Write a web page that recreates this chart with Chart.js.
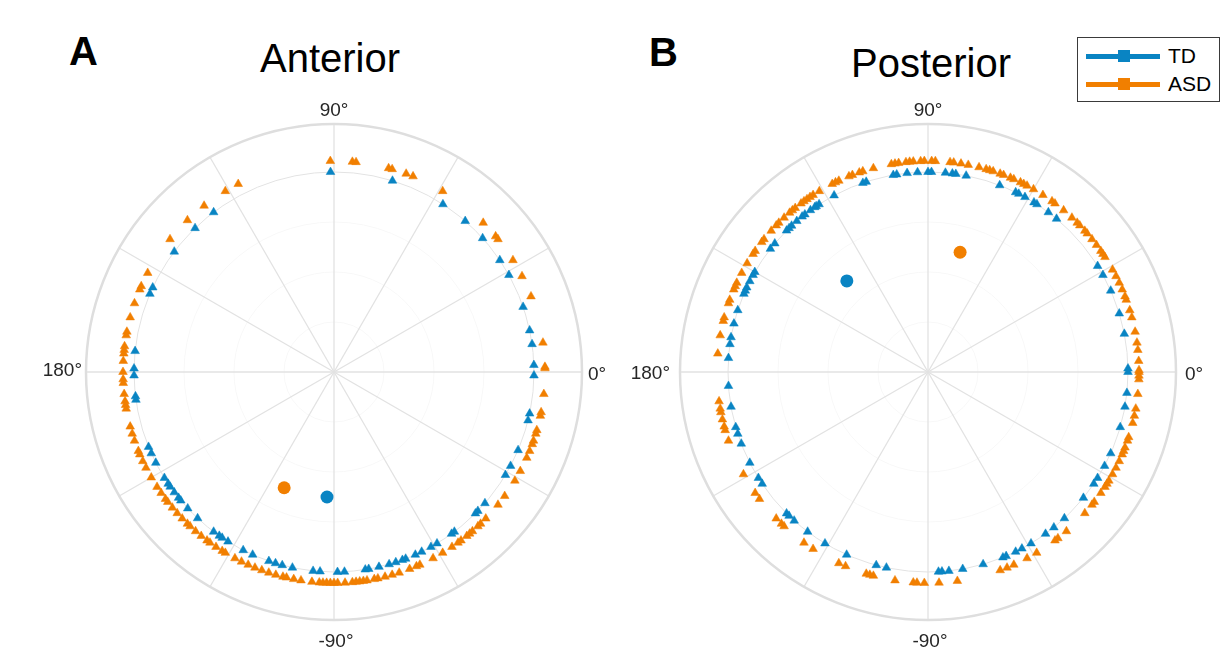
<!DOCTYPE html>
<html>
<head>
<meta charset="utf-8">
<script src="https://cdn.jsdelivr.net/npm/chart.js@4.4.1/dist/chart.umd.min.js"></script>
<style>
  html, body { margin: 0; padding: 0; background: #fff; overflow: hidden; }
  body { width: 1225px; height: 659px; position: relative; font-family: "Liberation Sans", Arial, sans-serif; color: #000; }
  canvas { position: absolute; }
  .txt { position: absolute; white-space: nowrap; line-height: 40px; font-size: 40px; }
  .panel { font-weight: bold; }
  #legend { position: absolute; left: 1077px; top: 37px; width: 143px; height: 65px; border: 1.5px solid #3a3a3a; background: #fff; box-sizing: border-box; z-index: 5; }
  .lrow { position: absolute; left: 0; width: 100%; height: 26px; }
  .lline { position: absolute; left: 8px; width: 74px; height: 5px; top: 10.5px; }
  .lmark { position: absolute; left: 39.5px; width: 12px; height: 12px; top: 7px; }
  .ltxt { position: absolute; left: 90px; top: 0; font-size: 21px; line-height: 26px; }
</style>
</head>
<body>
<div class="txt panel" style="left:69px; top:31px;">A</div>
<div class="txt" style="left:260px; top:38px;">Anterior</div>
<div class="txt panel" style="left:649px; top:32px;">B</div>
<div class="txt" style="left:851px; top:43px;">Posterior</div>

<canvas id="ant" width="620" height="620" style="left:24px; top:62px;"></canvas>
<canvas id="post" width="620" height="620" style="left:618px; top:62px;"></canvas>

<div id="legend">
  <div class="lrow" style="top:5px;">
    <div class="lline" style="background:#0984C3;"></div>
    <div class="lmark" style="background:#0984C3;"></div>
    <div class="ltxt">TD</div>
  </div>
  <div class="lrow" style="top:33px;">
    <div class="lline" style="background:#F17F00;"></div>
    <div class="lmark" style="background:#F17F00;"></div>
    <div class="ltxt">ASD</div>
  </div>
</div>

<script>
const tdColor = '#0984C3';
const asdColor = '#F17F00';

// phase angles in degrees
const tdAnterior = [2, 8, 12, 19, 29, 34, 42, 49, 57, 73, 91, 127, 134, 143, 155, 157, 174, 179, 181, 187, 188,
  202, 204, 207, 212, 214, 215, 217, 219, 220, 223, 227, 233, 235, 236, 238, 243, 246, 251, 253, 255, 258,
  264, 266, 271, 273, 279, 280, 283, 286, 288, 290, 291, 294, 296, 299, 301, 306, 307, 315, 316, 319,
  329, 332, 337, 346, 348, 359];
const asdAnterior = [1, 1.4, 8, 21, 27, 32, 39, 40, 45, 59, 68, 70, 74, 75, 84, 85, 91, 117, 121, 128, 134, 141,
  152, 156, 157, 161, 165, 169, 170, 173, 174, 175, 177, 180, 182, 183, 186, 188, 189, 190, 195, 197, 199,
  202, 203, 205, 207, 210, 213, 215, 217, 218, 220, 222, 224, 226, 227, 229, 231, 233, 234, 236, 238, 239,
  242, 244, 246, 248, 250, 252, 254, 256, 257, 259, 261, 264, 266, 267, 268, 269, 270, 271, 273, 275, 276,
  277, 278, 279, 281, 282, 284, 286, 288, 291, 293, 294, 298, 301, 304, 306, 307, 309, 310, 311, 313, 314,
  316, 321, 324, 329, 332, 336, 338, 340, 341, 343, 344, 348, 349, 354];
const tdPosterior = [1, 11, 17, 24, 29, 32, 50, 53, 57, 58, 61, 63, 64, 69, 79, 82, 83, 85, 89, 90, 93, 96, 99, 100,
  108, 109, 118, 123, 124, 124.5, 126, 128, 129, 131, 133, 134, 135, 140, 142, 150, 151, 153, 155, 156, 157,
  162, 166, 170, 172, 176, 184, 190, 196, 198, 201, 207, 212, 214, 225, 226, 228, 233, 239, 246, 255, 258,
  273, 274, 276, 280, 286, 292, 293, 296, 298, 301, 306, 309, 313, 321, 326, 328, 332, 336, 344, 350, 354, 360];
const asdPosterior = [0, 0.5, 3, 6, 8, 11, 15, 17, 20, 21, 23, 25, 27, 29, 33, 34, 35, 37, 39, 41, 42, 44, 45, 47,
  50, 53, 54, 57, 60, 62, 63, 64, 66, 67, 69, 70, 72, 73, 74, 76, 79, 81, 83, 84, 88, 89, 91, 92, 94, 95, 96,
  98, 99, 100, 105, 108, 109, 111, 112, 115, 116, 117, 121, 123, 124, 125, 126, 127, 129, 130, 131, 133, 135,
  136, 138, 141, 142, 145, 146, 149, 152, 155, 156, 157, 160, 161, 165, 166, 170, 175, 188, 190, 191, 193,
  195, 196, 199, 209, 215, 217, 224, 226, 227, 234, 237, 245, 247, 253, 254, 255, 261, 266, 267, 269, 273,
  278, 290, 292, 294, 298, 301, 307, 308, 311, 318, 321, 322, 325, 327, 328, 329, 331, 333, 335, 337, 338,
  339, 341, 342, 346, 348, 350, 354, 358, 359];

// radius each group is drawn at
const tdRadius = 1.0;
const asdRadius = 1.055;

// mean resultant vectors: [angle deg, length]
const tdMeanAnterior = [266.8, 0.626];
const asdMeanAnterior = [246.7, 0.63];
const tdMeanPosterior = [131.7, 0.61];
const asdMeanPosterior = [75, 0.62];

const gridRings = [0.25, 0.5, 0.75, 1.0];
const outerRing = 1.24;
const spokeAngles = [0, 30, 60, 90, 120, 150, 180, 210, 240, 270, 300, 330];

function toXY(deg, r) {
  const a = deg * Math.PI / 180;
  return { x: r * Math.cos(a), y: r * Math.sin(a) };
}

const polarGrid = {
  id: 'polarGrid',
  beforeDatasetsDraw(chart, args, opts) {
    const ctx = chart.ctx;
    const xs = chart.scales.x, ys = chart.scales.y;
    const cx = xs.getPixelForValue(0), cy = ys.getPixelForValue(0);
    const unit = xs.getPixelForValue(1) - cx;
    ctx.save();
    gridRings.forEach(r => {
      ctx.beginPath();
      ctx.arc(cx, cy, r * unit, 0, Math.PI * 2);
      ctx.strokeStyle = r === 1 ? '#e3e3e3' : '#f8f8f8';
      ctx.lineWidth = 1;
      ctx.stroke();
    });
    spokeAngles.forEach(d => {
      const p = toXY(d, outerRing);
      ctx.beginPath();
      ctx.moveTo(cx, cy);
      ctx.lineTo(xs.getPixelForValue(p.x), ys.getPixelForValue(p.y));
      ctx.strokeStyle = '#e2e2e2';
      ctx.lineWidth = 1.3;
      ctx.stroke();
    });
    ctx.beginPath();
    ctx.arc(cx, cy, outerRing * unit, 0, Math.PI * 2);
    ctx.strokeStyle = '#dedede';
    ctx.lineWidth = 2.5;
    ctx.stroke();

    const R = outerRing * unit;
    ctx.fillStyle = '#262626';
    ctx.font = '19px "Liberation Sans", Arial, sans-serif';
    ctx.textBaseline = 'middle';
    ctx.textAlign = 'left';
    ctx.fillText('0°', cx + R + opts.right, cy + 3);
    ctx.textAlign = 'right';
    ctx.fillText('180°', cx - R - opts.left, cy + opts.leftDy);
    ctx.textAlign = 'center';
    ctx.textBaseline = 'alphabetic';
    ctx.fillText('90°', cx, cy - R - 8);
    ctx.textBaseline = 'top';
    ctx.fillText('-90°', cx + 2, cy + R + 12);
    ctx.restore();
  }
};

function makePolar(id, tdAngles, asdAngles, tdMean, asdMean, labelOpts) {
  const tri = (angles, r) => angles.map(d => toXY(d, r));
  new Chart(document.getElementById(id), {
    type: 'scatter',
    data: {
      datasets: [
        {
          label: 'ASD',
          data: tri(asdAngles, asdRadius),
          pointStyle: 'triangle',
          pointRadius: 5,
          backgroundColor: asdColor,
          borderColor: asdColor,
          borderWidth: 0.5
        },
        {
          label: 'TD',
          data: tri(tdAngles, tdRadius),
          pointStyle: 'triangle',
          pointRadius: 5,
          backgroundColor: tdColor,
          borderColor: tdColor,
          borderWidth: 0.5
        },
        {
          label: 'ASD mean',
          data: [toXY(asdMean[0], asdMean[1])],
          pointStyle: 'circle',
          pointRadius: 6.5,
          backgroundColor: asdColor,
          borderWidth: 0
        },
        {
          label: 'TD mean',
          data: [toXY(tdMean[0], tdMean[1])],
          pointStyle: 'circle',
          pointRadius: 6.5,
          backgroundColor: tdColor,
          borderWidth: 0
        }
      ]
    },
    options: {
      responsive: false,
      animation: false,
      layout: { padding: 60 },
      scales: {
        x: { type: 'linear', min: -1.25, max: 1.25, display: false },
        y: { type: 'linear', min: -1.25, max: 1.25, display: false }
      },
      plugins: {
        legend: { display: false },
        tooltip: { enabled: false },
        polarGrid: labelOpts
      }
    },
    plugins: [polarGrid]
  });
}

makePolar('ant', tdAnterior, asdAnterior, tdMeanAnterior, asdMeanAnterior, { right: 6, left: 4, leftDy: -1 });
makePolar('post', tdPosterior, asdPosterior, tdMeanPosterior, asdMeanPosterior, { right: 9, left: 10, leftDy: 2 });
</script>
</body>
</html>
